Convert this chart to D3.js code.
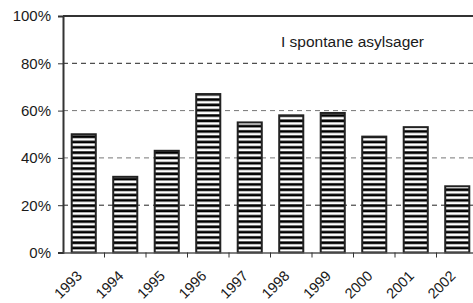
<!DOCTYPE html>
<html><head><meta charset="utf-8">
<script src="https://cdn.jsdelivr.net/npm/d3@7"></script>
<style>body{margin:0;background:#fff}svg{display:block}text{font-family:"Liberation Sans",Arial,sans-serif;fill:#1a1a1a}</style>
</head><body>
<script>
const years = ["1993","1994","1995","1996","1997","1998","1999","2000","2001","2002"];
const shares = [0.50,0.32,0.43,0.67,0.55,0.58,0.59,0.49,0.53,0.28];
const yTicks = [0,0.2,0.4,0.6,0.8,1.0];
const gridTicks = [0.2,0.4,0.6,0.8];
const annotation = "I spontane asylsager";

const W=473,H=303;
const svg=d3.select("body").append("svg").attr("width",W).attr("height",H);
const m={l:63,t:16,r:478,b:252.5};
const x=d3.scaleBand().domain(years).range([m.l,m.r]).paddingInner(0.42).paddingOuter(0.21);
const xb=d3.scaleBand().domain(years).range([m.l,m.r]);
const y=d3.scaleLinear().domain([0,1]).range([m.b,m.t]);

const defs=svg.append("defs");
const pat=defs.append("pattern").attr("id","stripes").attr("patternUnits","userSpaceOnUse")
  .attr("width",10).attr("height",5.3);
pat.append("rect").attr("width",10).attr("height",5.3).attr("fill","#000");
pat.append("rect").attr("y",0.3).attr("width",10).attr("height",2.6).attr("fill","#fff");

// grid
svg.append("g").selectAll("line").data(gridTicks).join("line")
  .attr("x1",m.l).attr("x2",W).attr("y1",d=>y(d)).attr("y2",d=>y(d))
  .attr("stroke",(d,i)=>(i===1||i===2)?"#777":"#222").attr("stroke-width",1).attr("stroke-dasharray","5,4");

// top frame line
svg.append("line").attr("x1",m.l).attr("x2",W).attr("y1",y(1)).attr("y2",y(1))
  .attr("stroke","#333").attr("stroke-width",2);

// bars
svg.append("g").selectAll("rect").data(years).join("rect")
  .attr("x",d=>x(d)).attr("width",x.bandwidth())
  .attr("y",(d,i)=>y(shares[i])).attr("height",(d,i)=>y(0)-y(shares[i]))
  .attr("fill","url(#stripes)").attr("stroke","#222").attr("stroke-width",2);

// y axis
const ya=svg.append("g").attr("transform",`translate(${m.l},0)`)
  .call(d3.axisLeft(y).tickValues(yTicks).tickFormat(d3.format(".0%")).tickSize(5).tickPadding(7));
ya.select(".domain").attr("stroke","#333").attr("stroke-width",2);
ya.selectAll(".tick line").attr("stroke","#333");
ya.selectAll("text").style("font-size","15px").attr("fill","#1a1a1a");

// x axis
const xa=svg.append("g").attr("transform",`translate(0,${m.b})`)
  .call(d3.axisBottom(xb).tickSize(0).tickFormat(""));
xa.select(".domain").attr("stroke","#555").attr("stroke-width",1.5);
svg.append("g").selectAll("line").data(years.slice(1)).join("line")
  .attr("x1",d=>xb(d)).attr("x2",d=>xb(d)).attr("y1",m.b).attr("y2",m.b+5)
  .attr("stroke","#333");
svg.append("g").selectAll("text").data(years).join("text")
  .attr("transform",d=>`translate(${xb(d)+xb.bandwidth()/2-8},${m.b+17}) rotate(-45)`)
  .attr("text-anchor","end").attr("dy","0.71em").style("font-size","14.5px").text(d=>d);

svg.append("text").attr("x",281).attr("y",47).style("font-size","15.5px").text(annotation);
</script>
</body></html>
